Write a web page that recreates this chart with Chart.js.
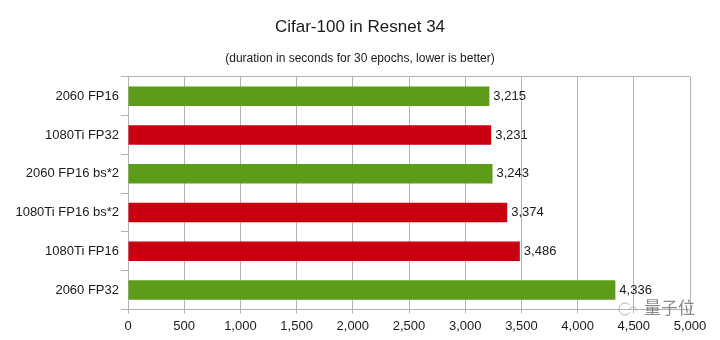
<!DOCTYPE html>
<html lang="en">
<head>
  <meta charset="UTF-8" />
  <title>Cifar-100 in Resnet 34</title>
  <script src="https://cdn.jsdelivr.net/npm/chart.js"></script>
  <style>
    body { margin: 0; background: #ffffff; }
    canvas { display: block; }
  </style>
</head>
<body>
  <canvas id="chart" width="720" height="340"></canvas>
  <script>
    const categories = ["2060 FP16", "1080Ti FP32", "2060 FP16 bs*2", "1080Ti FP16 bs*2", "1080Ti FP16", "2060 FP32"];
    const durations = [3215, 3231, 3243, 3374, 3486, 4336];
    const barColors = ["#5c9c18", "#c8000f", "#5c9c18", "#c8000f", "#c8000f", "#5c9c18"];
    const titleText = "Cifar-100 in Resnet 34";
    const subtitleText = "(duration in seconds for 30 epochs, lower is better)";
    const watermarkText = "量子位";
    const font = "'Liberation Sans', Arial, sans-serif";
    const textColor = "#1a1a1a";
    const gridColor = "#b3b3b3";

    // value labels at the end of each bar, plus the watermark in the corner
    const barLabels = {
      id: "barLabels",
      afterDatasetsDraw(chart) {
        const { ctx, scales } = chart;
        ctx.save();
        ctx.font = "13px " + font;
        ctx.fillStyle = textColor;
        ctx.textAlign = "left";
        ctx.textBaseline = "middle";
        durations.forEach((v, i) => {
          ctx.fillText(v.toLocaleString("en-US"), scales.x.getPixelForValue(v) + 4, scales.y.getPixelForValue(i));
        });
        ctx.font = "17px 'Noto Sans CJK SC'";
        ctx.fillStyle = "rgba(90,90,90,0.7)";
        ctx.fillText(watermarkText, 644, 308);
        ctx.strokeStyle = "rgba(150,150,150,0.7)";
        ctx.lineWidth = 1;
        ctx.beginPath();
        ctx.arc(625, 309, 6, 0.6, 5.6);
        ctx.stroke();
        ctx.beginPath();
        ctx.arc(633, 311, 4, 3.4, 6.2);
        ctx.stroke();
        ctx.restore();
      }
    };

    new Chart(document.getElementById("chart"), {
      type: "bar",
      data: {
        labels: categories,
        datasets: [{
          data: durations,
          backgroundColor: barColors,
          borderWidth: 0,
          barPercentage: 0.5,
          categoryPercentage: 1
        }]
      },
      plugins: [barLabels],
      options: {
        indexAxis: "y",
        responsive: false,
        animation: false,
        layout: { padding: { left: 0, right: 0, top: 0, bottom: 1 } },
        plugins: {
          legend: { display: false },
          tooltip: { enabled: false },
          title: {
            display: true,
            text: titleText,
            color: textColor,
            font: { family: font, size: 17, weight: "normal" },
            padding: { top: 17, bottom: 10 }
          },
          subtitle: {
            display: true,
            text: subtitleText,
            color: textColor,
            font: { family: font, size: 12, weight: "normal" },
            padding: { top: 4, bottom: 11 }
          }
        },
        scales: {
          x: {
            min: 0,
            max: 5000,
            ticks: {
              stepSize: 500,
              color: textColor,
              font: { family: font, size: 13 },
              maxRotation: 0,
              padding: 5,
              callback: v => v.toLocaleString("en-US")
            },
            grid: { color: gridColor, tickColor: gridColor, tickLength: 4 },
            border: { color: gridColor }
          },
          y: {
            afterFit(axis) { axis.width = 128; },
            ticks: {
              color: textColor,
              font: { family: font, size: 13 },
              padding: 2
            },
            // only the top edge of the plot gets a horizontal line
            grid: {
              offset: true,
              color: c => c.index === 0 ? gridColor : "transparent",
              tickColor: gridColor,
              tickLength: 7
            },
            border: { color: gridColor }
          },
          // empty axis, only holds the right margin so the title stays centred on the page
          rightMargin: {
            type: "linear",
            position: "right",
            afterFit(axis) { axis.width = 30; },
            ticks: { display: false },
            grid: { display: false },
            border: { display: false }
          }
        }
      }
    });
  </script>
</body>
</html>
